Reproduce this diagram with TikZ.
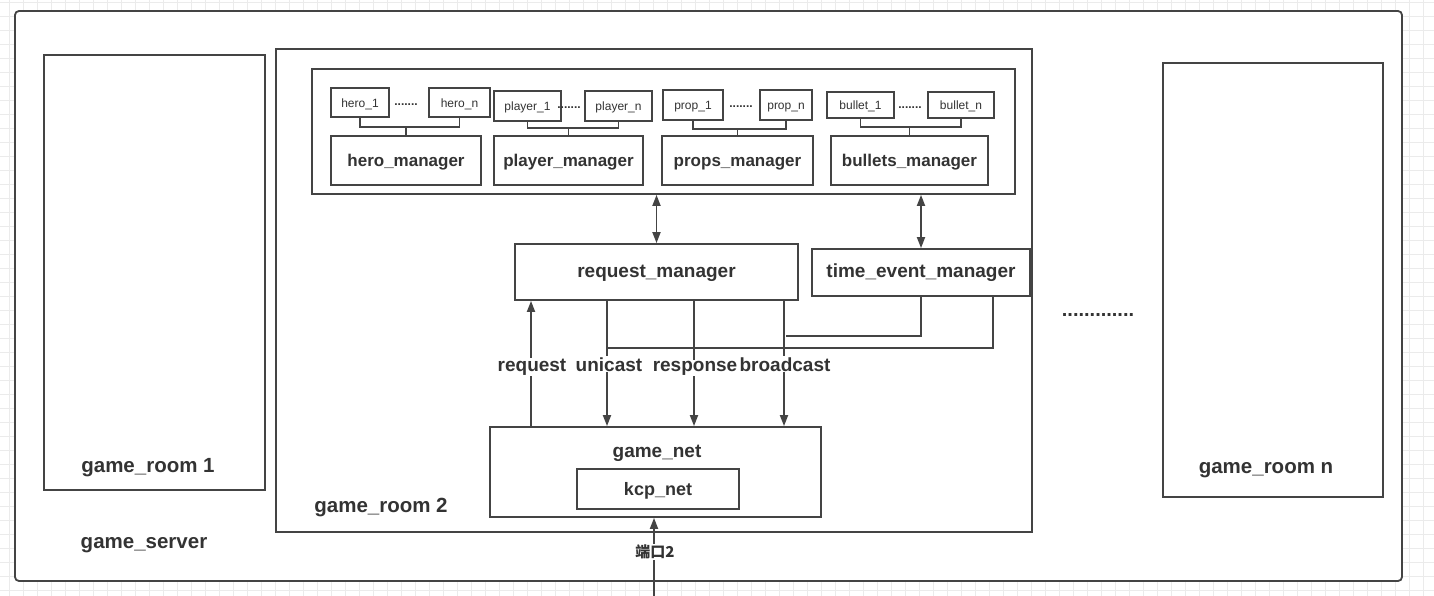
\documentclass[tikz,border=0pt]{standalone}
\usepackage{fontspec}
\setmainfont{Liberation Sans}
\newfontfamily\cjk{Noto Sans CJK SC}
\usetikzlibrary{arrows.meta}
\definecolor{lc}{HTML}{444444}
\definecolor{tc}{HTML}{333333}
\definecolor{gc}{HTML}{EBEBEB}
\newcommand{\fsz}[1]{\fontsize{#1}{#1}\selectfont}
\begin{document}
\begin{tikzpicture}[x=1pt,y=-1pt,
  box/.style={draw=lc,line width=1.8pt,fill=white,inner sep=0pt,text=tc},
  big/.style={font=\bfseries\fsz{17},text=tc,text height=13pt,text depth=0pt},
  bigger/.style={font=\bfseries\fsz{19},text=tc,text height=10pt,text depth=0pt},
  huge/.style={font=\bfseries\fsz{20.5},text=tc,anchor=base},
  small/.style={font=\fsz{12},text=tc,text height=10pt,text depth=0pt},
  dots/.style={font=\bfseries\fsz{12},text=tc,inner sep=0pt},
  ln/.style={draw=lc,line width=1.8pt},
  arr/.style={ln,-{Triangle[length=11pt,width=8pt]}},
  dbl/.style={ln,{Triangle[length=11pt,width=8pt]}-{Triangle[length=11pt,width=8pt]}},
  lab/.style={font=\bfseries\fsz{19},text=tc,fill=white,inner sep=1pt,anchor=base}]
\useasboundingbox (0,0) rectangle (1434,596);
% background grid
\foreach \i in {0,...,102} {\draw[gc,line width=0.8pt] (9.5+14*\i,0) -- (9.5+14*\i,596);}
\foreach \j in {0,...,42} {\draw[gc,line width=0.8pt] (0,2+14*\j) -- (1434,2+14*\j);}
% containers
\node[box,rounded corners=4pt,minimum width=1387pt,minimum height=570pt] (server) at (708.5,296) {};
\node[box,minimum width=221pt,minimum height=435pt] (room1) at (154.5,272.5) {};
\node[box,minimum width=756pt,minimum height=483pt] (room2) at (654,290.5) {};
\node[box,minimum width=220pt,minimum height=434pt] (roomn) at (1273,280) {};
\node[huge] (lserver) at (144,548) {game\_server};
\node[huge] (lroom1) at (148,472) {game\_room 1};
\node[huge] (lroom2) at (381,512) {game\_room 2};
\node[huge] (lroomn) at (1266,473) {game\_room n};
\node[font=\bfseries\fsz{20},text=tc,inner sep=0pt,anchor=base] (bigdots) at (1098,316) {.............};
% managers container
\node[box,minimum width=703pt,minimum height=125pt] (mgrs) at (663.5,131.5) {};
% item boxes
\node[box,small,minimum width=58pt,minimum height=29pt] (hero1) at (360,102.5) {hero\_1};
\node[box,small,minimum width=61pt,minimum height=29pt] (heron) at (459.5,102.5) {hero\_n};
\node[box,small,minimum width=67pt,minimum height=30pt] (player1) at (527.5,106) {player\_1};
\node[box,small,minimum width=67pt,minimum height=30pt] (playern) at (618.5,106) {player\_n};
\node[box,small,minimum width=60pt,minimum height=30pt] (prop1) at (693,105) {prop\_1};
\node[box,small,minimum width=52pt,minimum height=30pt] (propn) at (786,105) {prop\_n};
\node[box,small,minimum width=67pt,minimum height=26pt] (bullet1) at (860.5,105) {bullet\_1};
\node[box,small,minimum width=66pt,minimum height=26pt] (bulletn) at (961,105) {bullet\_n};
\node[dots,anchor=base] (d1) at (406,106) {.......};
\node[dots,anchor=base] (d2) at (569,109) {.......};
\node[dots,anchor=base] (d3) at (741,108) {.......};
\node[dots,anchor=base] (d4) at (910,109) {.......};
% managers
\node[box,big,minimum width=150pt,minimum height=49pt] (heromgr) at (406,160.5) {hero\_manager};
\node[box,big,minimum width=149pt,minimum height=49pt] (playermgr) at (568.5,160.5) {player\_manager};
\node[box,big,minimum width=151pt,minimum height=49pt] (propsmgr) at (737.5,160.5) {props\_manager};
\node[box,big,minimum width=157pt,minimum height=49pt] (bulletsmgr) at (909.5,160.5) {bullets\_manager};
% brackets
\coordinate (hb) at (406,127);
\coordinate (pb) at (569,128);
\coordinate (rb) at (737,129);
\coordinate (bb) at (908,127);
\draw[ln] (hero1.south) |- (heron.south |- hb) -- (heron.south);
\draw[ln] (heromgr.north) -- (heromgr.north |- hb);
\draw[ln] (player1.south) |- (playern.south |- pb) -- (playern.south);
\draw[ln] (playermgr.north) -- (playermgr.north |- pb);
\draw[ln] (prop1.south) |- (propn.south |- rb) -- (propn.south);
\draw[ln] (propsmgr.north) -- (propsmgr.north |- rb);
\draw[ln] (bullet1.south) |- (bulletn.south |- bb) -- (bulletn.south);
\draw[ln] (bulletsmgr.north) -- (bulletsmgr.north |- bb);
% request / time managers
\node[box,bigger,minimum width=283pt,minimum height=56pt] (reqmgr) at (656.5,272) {request\_manager};
\node[box,bigger,minimum width=218pt,minimum height=47pt] (timemgr) at (921,272.5) {time\_event\_manager};
\draw[dbl] (mgrs.south -| reqmgr.north) -- (reqmgr.north);
\draw[dbl] (mgrs.south -| timemgr.north) -- (timemgr.north);
% net
\node[box,minimum width=331pt,minimum height=90pt] (gamenet) at (655.5,472) {};
\node[font=\bfseries\fsz{19},text=tc,anchor=base] (lgamenet) at (657,457) {game\_net};
\node[box,font=\bfseries\fsz{18},text=tc,text height=12pt,text depth=0pt,minimum width=162pt,minimum height=40pt] (kcpnet) at (658,489) {kcp\_net};
% vertical flows
\coordinate (xreq) at (531,366);
\coordinate (xuni) at (607,366);
\coordinate (xres) at (694,366);
\coordinate (xbc) at (784,366);
\coordinate (h1) at (786,336);
\coordinate (h2) at (607,348);
\coordinate (t2) at (993,296);
\draw[ln] (timemgr.south) |- (h1);
\draw[ln] (timemgr.south -| t2) |- (h2);
\draw[arr] (gamenet.north -| xreq) -- (reqmgr.south -| xreq);
\draw[arr] (reqmgr.south -| xuni) -- (gamenet.north -| xuni);
\draw[arr] (reqmgr.south -| xres) -- (gamenet.north -| xres);
\draw[arr] (reqmgr.south -| xbc) -- (gamenet.north -| xbc);
\node[lab] (lreq) at (532,371) {request};
\node[lab] (luni) at (609,371) {unicast};
\node[lab] (lres) at (695,371) {response};
\node[lab] (lbc) at (785,371) {broadcast};
% port
\coordinate (port) at (654,596);
\draw[arr] (port) -- (gamenet.south -| port);
\node[fill=white,inner sep=1pt,text=tc,font=\cjk\bfseries\fsz{15}] (lport) at (655,552) {端口2};
\end{tikzpicture}
\end{document}
